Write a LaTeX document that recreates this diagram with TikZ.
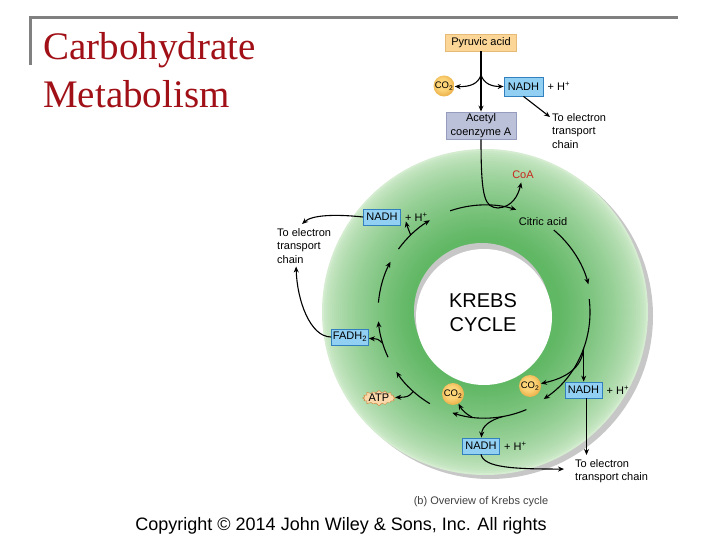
\documentclass[tikz,border=0pt]{standalone}
\usepackage{fontspec}
\setmainfont{Liberation Serif}
\setsansfont{Liberation Sans}
\usepackage{tikz}
\usetikzlibrary{positioning,shapes.symbols,arrows.meta}
\definecolor{TitleRed}{RGB}{160,16,22}
\definecolor{FrameGray}{RGB}{128,128,128}
\definecolor{PyrOrange}{RGB}{252,214,150}
\definecolor{PyrEdge}{RGB}{228,186,118}
\definecolor{AcetylBlue}{RGB}{188,193,218}
\definecolor{AcetylEdge}{RGB}{150,156,190}
\definecolor{NadhBlue}{RGB}{145,208,242}
\definecolor{NadhEdge}{RGB}{50,128,190}
\definecolor{RingInner}{RGB}{96,183,100}
\definecolor{RingOuter}{RGB}{212,236,207}
\definecolor{BallLight}{RGB}{252,212,120}
\definecolor{BallOrange}{RGB}{222,148,36}
\definecolor{CoaRed}{RGB}{200,40,30}
\definecolor{AtpFill}{RGB}{250,216,170}
\definecolor{AtpEdge}{RGB}{205,130,60}
\pgfdeclareradialshading{co2ball}{\pgfpoint{-5bp}{6bp}}{color(0bp)=(BallLight); color(14bp)=(BallLight); color(38bp)=(BallOrange); color(50bp)=(BallOrange)}

\begin{document}
\begin{tikzpicture}[x=1pt, y=-1pt,
            font=\sffamily\fontsize{11}{13.5}\selectfont,
            titletext/.style={anchor=base west, inner sep=0pt, text=TitleRed, font=\rmfamily\fontsize{39}{47}\selectfont},
            chem/.style={draw, line width=0.8pt, inner sep=0pt, align=center, minimum height=16pt},
            nadh/.style={chem, fill=NadhBlue, draw=NadhEdge, minimum width=37pt},
            ball/.style={circle, shading=co2ball, inner sep=0pt, minimum size=22pt, font=\sffamily\fontsize{9.5}{10}\selectfont},
            note/.style={inner sep=0pt, align=left},
            flow/.style={-{Stealth[length=6pt,width=5pt]}, line width=1.1pt}
        ]
            \useasboundingbox (0,0) rectangle (720,540);

            % Frame and title
            \draw [FrameGray, line width=3pt] (30,65) |- (678,18);
            \node [titletext] (titleA) at (43,60) {Carbohydrate};
            \node [titletext] (titleB) at (43,108) {Metabolism};

            % Ring, paler towards its rim
            \coordinate (ctr) at (485,312);
            \fill [black!22] (490,316) circle [radius=163pt];
            \foreach \i in {0,...,46} {
                \pgfmathsetmacro{\rr}{163-2*\i}
                \pgfmathsetmacro{\pp}{min(100,100*(\i/44)^0.65)}
                \fill [RingInner!\pp!RingOuter] (ctr) circle [radius=\rr pt];
            }
            \fill [black!22] (482,311) circle [radius=68pt];
            \fill [white] (484,317) circle [radius=68pt];
            \node [font=\sffamily\fontsize{20}{24}\selectfont, align=center, inner sep=0pt] (krebs) at (483,313) {KREBS\\CYCLE};

            % Pyruvic acid to acetyl coenzyme A
            \node [chem, fill=PyrOrange, draw=PyrEdge, minimum width=71pt, minimum height=17pt] (pyruvic) at (481,42.5) {Pyruvic acid};
            \node [chem, fill=AcetylBlue, draw=AcetylEdge, minimum width=70pt, minimum height=27pt] (acetyl) at (481,125.5) {Acetyl\\coenzyme A};
            \node [ball, minimum size=21pt] (co2top) at (444,86) {CO\textsubscript{2}};
            \node [nadh, minimum width=39pt, minimum height=19pt] (nadhtop) at (523.5,86.5) {NADH};
            \node [right=4pt of nadhtop, inner sep=0pt] (htop) {+ H\textsuperscript{+}};
            \node [note, anchor=north west] (etctop) at (552,113) {To electron\\transport\\chain};
            \coordinate (split) at (481,75);
            \draw [flow] (pyruvic) -- (acetyl);
            \draw [flow] (split) .. controls (478,84) and (470,87) .. (co2top);
            \draw [flow] (split) .. controls (484,84) and (492,86.5) .. (nadhtop);
            \draw [flow] (nadhtop.south) -- ([xshift=-2pt,yshift=-4pt]etctop.north west);

            % Labels round the cycle
            \node [text=CoaRed] (coa) at (523,175) {CoA};
            \node (citric) at (543,222) {Citric acid};
            \node [nadh] (nadhright) at (583.5,390) {NADH};
            \node [right=4pt of nadhright, inner sep=0pt] (hright) {+ H\textsuperscript{+}};
            \node [ball] (co2right) at (530,386) {CO\textsubscript{2}};
            \node [ball] (co2left) at (453,394) {CO\textsubscript{2}};
            \node [nadh] (nadhbottom) at (481,446) {NADH};
            \node [right=4pt of nadhbottom, inner sep=0pt] (hbottom) {+ H\textsuperscript{+}};
            \node [starburst, starburst points=16, starburst point height=3pt, fill=AtpFill, draw=AtpEdge, inner sep=0pt, minimum width=32pt, minimum height=16pt] (atp) at (379,398) {ATP};
            \node [nadh] (fadh) at (350,337) {FADH\textsubscript{2}};
            \node [nadh] (nadhleft) at (382,217) {NADH};
            \node [right=4pt of nadhleft, inner sep=0pt] (hleft) {+ H\textsuperscript{+}};
            \node [note, anchor=north west] (etcleft) at (277,228) {To electron\\transport\\chain};
            \node [note, anchor=north west] (etcright) at (575,459) {To electron\\transport chain};
            \node [text=black!75] (caption) at (481,502) {(b) Overview of Krebs cycle};

            % Acetyl coenzyme A enters the cycle
            \coordinate (coajoin) at (498,208);
            \draw [line width=1.1pt] (acetyl.south) .. controls (481,200) and (485,207) .. (coajoin);
            \draw [flow] (coajoin) .. controls (512,207) and (518,196) .. (coa);

            % Cycle steps
            \draw [flow] (ctr) ++(251:107) arc [start angle=251, end angle=287, radius=107];
            \draw [flow] (ctr) ++(310:107) arc [start angle=310, end angle=345, radius=107];
            \draw [flow] (ctr) ++(353:105) arc [start angle=353, end angle=416, radius=105];
            \draw [flow] (ctr) ++(67:106) arc [start angle=67, end angle=108, radius=106];
            \draw [flow] (ctr) ++(121:107) arc [start angle=121, end angle=146, radius=107];
            \draw [flow] (ctr) ++(155:107) arc [start angle=155, end angle=175, radius=107];
            \draw [flow] (ctr) ++(185:107) arc [start angle=185, end angle=208, radius=107];
            \draw [flow] (ctr) ++(216:107) arc [start angle=216, end angle=239, radius=107];

            % Side products
            \path (ctr) ++(20:105) coordinate (brright);
            \path (ctr) ++(80:106) coordinate (brbottom);
            \path (ctr) ++(97:106) coordinate (brco2);
            \path (ctr) ++(132:107) coordinate (bratp);
            \path (ctr) ++(163:107) coordinate (brfadh);
            \path (ctr) ++(226:107) coordinate (brnadh);
            \draw [flow] (brright) -- (brright |- nadhright.north);
            \draw [flow] (brright) .. controls (582,368) and (566,378) .. (co2right);
            \draw [flow] (brbottom) .. controls (490,420) and (482,426) .. (nadhbottom);
            \draw [flow] (brco2) .. controls (466,414) and (462,410) .. (co2left);
            \draw [flow] (bratp) .. controls (408,397) .. (atp);
            \draw [flow] (brfadh) .. controls (378,339) .. (fadh);
            \draw [flow] (brnadh) .. controls (408,230) .. ([xshift=1pt]hleft.south west);

            % To electron transport chain
            \draw [flow] (nadhleft.west) .. controls (335,214) and (312,215) .. ([xshift=-2pt,yshift=4pt]etcleft.north);
            \draw [flow] (fadh.west) .. controls (310,337) and (297,300) .. ([xshift=-8pt,yshift=-3pt]etcleft.south);
            \draw [flow] ([xshift=3pt]nadhright.south) -- ([xshift=3pt,yshift=4pt]nadhright.south |- etcright.north);
            \draw [flow] (nadhbottom.south) .. controls (484,468) and (515,469) .. ([xshift=-11pt,yshift=2pt]etcright.west);

            % Footer
            \node [font=\sffamily\fontsize{18}{20}\selectfont] (copyright) at (341,526) {Copyright © 2014 John Wiley \& Sons, Inc. All rights};
        \end{tikzpicture}
\end{document}
